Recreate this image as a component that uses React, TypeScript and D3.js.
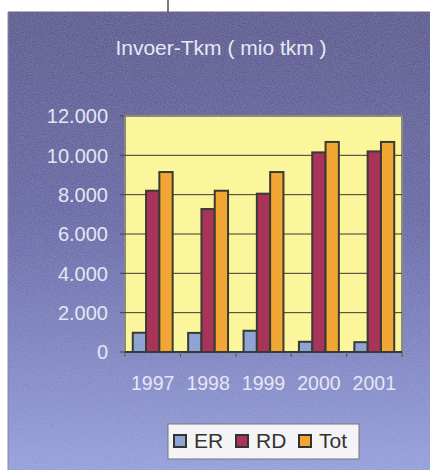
import React from "react";
import * as d3 from "d3";

const years = ["1997", "1998", "1999", "2000", "2001"];
const seriesNames = ["ER", "RD", "Tot"];
const erValues = [980, 970, 1080, 520, 500];
const rdValues = [8200, 7270, 8050, 10150, 10200];
const totValues = [9150, 8200, 9150, 10680, 10680];
const yTicks = [0, 2000, 4000, 6000, 8000, 10000, 12000];
const seriesColors = ["#8ea4d4", "#a8345a", "#f2a735"];
const title = "Invoer-Tkm ( mio tkm )";

export default function App() {
  const W = 430, H = 470;
  const plot = { left: 125, right: 402, top: 116, bottom: 352 };
  const x0 = d3.scaleBand<string>().domain(years).range([plot.left, plot.right]).padding(0);
  const bw = x0.bandwidth();
  const x1 = d3.scaleBand<string>().domain(seriesNames).range([bw * 0.14, bw * 0.86]).padding(0);
  const y = d3.scaleLinear().domain([0, 12000]).range([plot.bottom, plot.top]);
  const fmt = (v: number) => (v === 0 ? "0" : d3.format(",")(v).replace(/,/g, "."));
  const seriesValues = [erValues, rdValues, totValues];
  const font = "'Liberation Sans', Arial, sans-serif";

  return (
    <svg width={W} height={H} style={{ position: "absolute", left: 0, top: 0 }} fontFamily={font}>
      <defs>
        <linearGradient id="bg" x1="0" y1="0" x2="0" y2="1">
          <stop offset="0" stopColor="#4b4889" />
          <stop offset="0.45" stopColor="#5a5ba2" />
          <stop offset="1" stopColor="#8e9ad9" />
        </linearGradient>
        <filter id="noise" x="0" y="0" width="100%" height="100%">
          <feTurbulence type="fractalNoise" baseFrequency="0.9" numOctaves="2" seed="3" result="n" />
          <feColorMatrix type="matrix" values="0 0 0 0 1  0 0 0 0 1  0 0 0 0 1  0 0 0 0.15 0" in="n" result="w" />
          <feComposite in="w" in2="SourceGraphic" operator="in" result="wn" />
          <feMerge>
            <feMergeNode in="SourceGraphic" />
            <feMergeNode in="wn" />
          </feMerge>
        </filter>
      </defs>
      <rect x={0} y={0} width={W} height={H} fill="#ffffff" />
      <line x1={168} x2={168} y1={0} y2={12} stroke="#222" strokeWidth={1.2} />
      <rect x={8} y={12} width={W - 8} height={H - 12} fill="url(#bg)" filter="url(#noise)" />
      <line x1={8} x2={W} y1={12} y2={12} stroke="#6a6a7a" strokeWidth={1} />
      <line x1={8} x2={8} y1={12} y2={H} stroke="#8888a0" strokeWidth={1} />

      <text x={221} y={55} textAnchor="middle" fill="#e8e8f4" fontSize={21}>{title}</text>

      {/* plot area */}
      <rect x={plot.left} y={plot.top} width={plot.right - plot.left} height={plot.bottom - plot.top}
        fill="#fbf59c" stroke="#8a8a80" strokeWidth={2} />

      {yTicks.map((t) => (
        <g key={t}>
          {t > 0 && t < 12000 && (
            <line x1={plot.left} x2={plot.right} y1={y(t)} y2={y(t)} stroke="#3a3a30" strokeWidth={1} />
          )}
          <line x1={plot.left - 5} x2={plot.left} y1={y(t)} y2={y(t)} stroke="#444" strokeWidth={1} />
          <text x={108} y={y(t)} dy="0.36em" textAnchor="end" fill="#e6e6f2" fontSize={20}>{fmt(t)}</text>
        </g>
      ))}

      {years.map((yr, i) => (
        <g key={yr}>
          {seriesNames.map((s, j) => {
            const v = seriesValues[j][i];
            const bx = (x0(yr) as number) + (x1(s) as number);
            return (
              <rect key={s} x={bx} y={y(v)} width={x1.bandwidth()} height={y(0) - y(v)}
                fill={seriesColors[j]} stroke="#3a3a34" strokeWidth={2} />
            );
          })}
          <text x={(x0(yr) as number) + bw / 2} y={390} textAnchor="middle" fill="#e6e6f2" fontSize={19.5}>{yr}</text>
        </g>
      ))}

      {/* x axis */}
      <line x1={plot.left} x2={plot.right} y1={plot.bottom} y2={plot.bottom} stroke="#3a3a34" strokeWidth={2} />
      {[...years.map((yr) => x0(yr) as number), plot.right].map((tx, k) => (
        <line key={k} x1={tx} x2={tx} y1={plot.bottom} y2={plot.bottom + 5} stroke="#555" strokeWidth={1} />
      ))}

      {/* legend */}
      <rect x={168} y={424} width={191} height={35} fill="#f4f4f6" stroke="#777" strokeWidth={1} />
      {seriesNames.map((s, j) => {
        const lx = [174, 236, 299][j];
        return (
          <g key={s}>
            <rect x={lx} y={435} width={12} height={12} fill={seriesColors[j]} stroke="#333" strokeWidth={2} />
            <text x={lx + 20} y={448} fill="#333" fontSize={21}>{s}</text>
          </g>
        );
      })}
    </svg>
  );
}
